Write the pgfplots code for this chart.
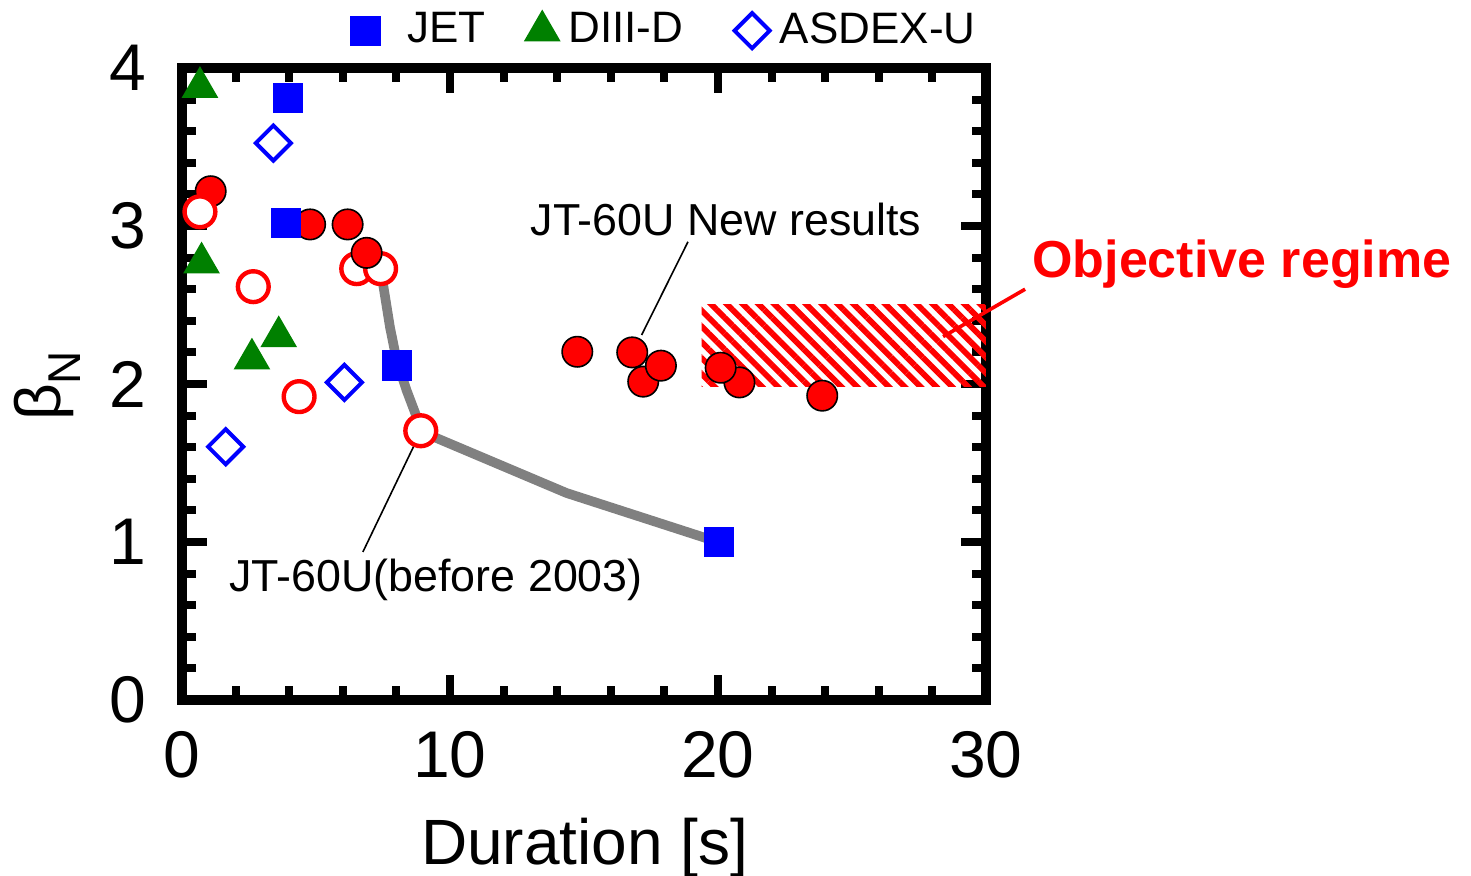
\documentclass[border=0pt]{standalone}
\usepackage{fontspec}
\setmainfont{Liberation Sans}
\usepackage{pgfplots}
\pgfplotsset{compat=1.18}
\usetikzlibrary{patterns.meta}
\definecolor{jblue}{RGB}{0,0,255}
\definecolor{dgreen}{RGB}{0,128,0}
\definecolor{lgray}{RGB}{128,128,128}
\definecolor{jred}{RGB}{255,0,0}
\begin{document}
\begin{tikzpicture}
\useasboundingbox (-45.5pt,-44pt) rectangle (322.25pt,175pt);
\begin{axis}[
  scale only axis, width=201pt, height=158pt,
  xmin=0, xmax=30, ymin=0, ymax=4,
  xtick={0,10,20,30}, ytick={0,1,2,3,4},
  minor x tick num=4, minor y tick num=4,
  tick align=inside,
  major tick length=6.2pt, minor tick length=3.5pt,
  every tick/.append style={black, line width=2pt},
  axis line style={line width=2.5pt},
  clip=false,
  /pgf/number format/assume math mode=true,
  ticklabel style={font=\fontsize{16.5}{18}\selectfont},
  xticklabel style={anchor=base, yshift=-19.5pt},
  yticklabel style={anchor=east, inner sep=0pt, xshift=-8.75pt},
  xlabel={Duration [s]},
  xlabel style={font=\fontsize{16}{18}\selectfont, at={(axis description cs:0.501,-0.261)}, anchor=base},
  ylabel={β\raisebox{-5pt}{\fontsize{11.5}{12}\selectfont N}},
  ylabel style={font=\fontsize{16}{18}\selectfont, at={(axis description cs:-0.168,0.497)}, anchor=center, rotate=0},
  legend columns=3,
  legend image code/.code={\path (-4.5pt,0pt) (4.5pt,0pt); \draw[#1] plot coordinates {(0pt,0pt)};},
  legend style={at={(axis description cs:0.596,1.060)}, anchor=center, draw=none, fill=none,
    font=\fontsize{11}{13}\selectfont, nodes={inner sep=0pt},
    /tikz/every even column/.append style={column sep=0pt},
    /tikz/every odd column/.append style={column sep=0pt}},
]
% objective regime hatched area
\addplot[draw=none, forget plot, pattern={Lines[angle=-45, distance=2.8pt, line width=1.45pt]}, pattern color=jred]
  coordinates {(19.39,1.983) (30,1.983) (30,2.506) (19.39,2.506) (19.39,1.983)};
% JT-60U before 2003 trend line
\addplot[lgray, line width=2.4pt, line join=round, forget plot]
  coordinates {(7.41,2.73) (7.76,2.36) (8.01,2.15) (8.38,1.96) (8.76,1.79) (8.91,1.70) (14.35,1.31) (20.0,1.0)};
% leader lines
\draw[black, line width=0.4pt] (axis cs:18.88,2.90) -- (axis cs:17.15,2.31);
\draw[black, line width=0.4pt] (axis cs:8.76,1.646) -- (axis cs:6.75,0.937);
\draw[jred, line width=0.9pt] (axis cs:31.46,2.60) -- (axis cs:28.4,2.30);
% JT-60U open circles (behind)
\addplot[only marks, forget plot, mark=*, mark size=3.85pt, mark options={draw=jred, fill=white, line width=1.1pt}]
  coordinates {(6.52,2.73) (7.41,2.73)};
% JT-60U new results (filled)
\addplot[only marks, forget plot, mark=*, mark size=3.8pt, mark options={draw=black, fill=jred, line width=0.4pt}]
  coordinates {(1.07,3.22) (4.78,3.01) (6.18,3.01) (6.89,2.83) (14.75,2.204) (17.21,2.015) (16.8,2.2) (17.87,2.116) (20.8,2.01) (20.1,2.103) (23.89,1.926)};
% JT-60U open circles
\addplot[only marks, forget plot, mark=*, mark size=3.85pt, mark options={draw=jred, fill=white, line width=1.1pt}]
  coordinates {(0.67,3.09) (2.66,2.616) (4.37,1.92) (8.91,1.704)};
% JET
\addplot[only marks, mark=square*, mark size=3.6pt, mark options={draw=jblue, fill=jblue, line width=0.4pt}]
  coordinates {(3.96,3.81) (3.88,3.02) (8.02,2.118) (20.03,1.0)};
\addlegendentry{\hspace{5.7pt}JET\rule{9.5pt}{0pt}}
% DIII-D
\addplot[only marks, mark=triangle*, mark size=4.9pt, mark options={draw=dgreen, fill=dgreen, line width=0.4pt}]
  coordinates {(0.67,3.878) (0.73,2.767) (2.61,2.159) (3.61,2.30)};
\addlegendentry{\hspace{1.85pt}DIII-D\rule{12.5pt}{0pt}}
% ASDEX-U
\addplot[only marks, mark=square, mark size=3.1pt, mark options={draw=jblue, fill=none, line width=1pt, rotate=45}]
  coordinates {(3.41,3.525) (6.06,2.01) (1.63,1.603)};
\addlegendentry{\hspace{2.25pt}ASDEX-U}
% annotations
\node[font=\fontsize{11.2}{13}\selectfont, anchor=center] at (axis cs:20.3,3.04) {JT-60U New results};
\node[font=\fontsize{11.2}{13}\selectfont, anchor=center] at (axis cs:9.48,0.76) {JT-60U(before 2003)};
\node[font=\fontsize{13}{15}\selectfont\bfseries, text=jred, anchor=center] at (axis cs:39.55,2.76) {Objective regime};
\end{axis}
\end{tikzpicture}
\end{document}
